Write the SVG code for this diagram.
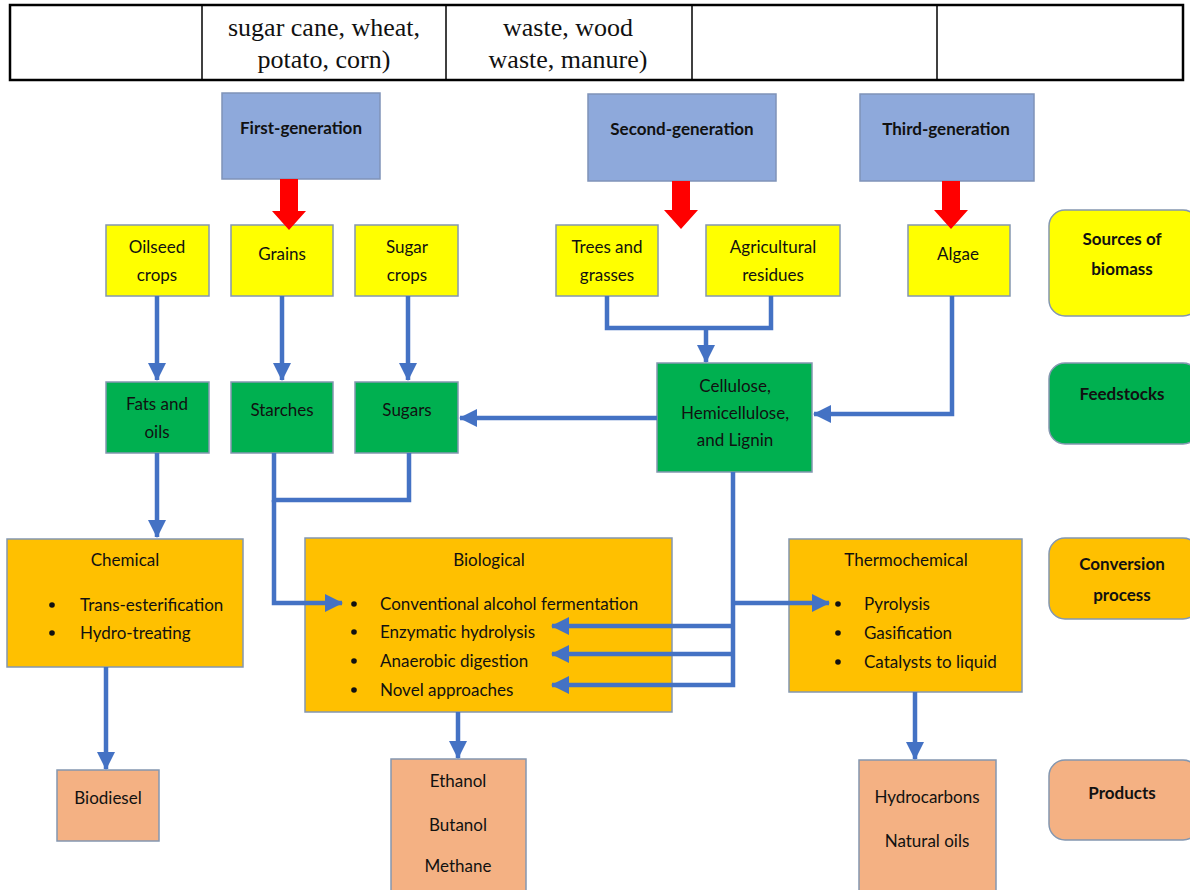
<svg xmlns="http://www.w3.org/2000/svg" width="1190" height="890" viewBox="0 0 1190 890">
<defs>
<style>
.t{font-family:Lato,"Liberation Sans",sans-serif;font-size:17px;fill:#111;text-anchor:middle}
.l{font-family:Lato,"Liberation Sans",sans-serif;font-size:17px;fill:#111}
.b{font-family:Lato,"Liberation Sans",sans-serif;font-size:16px;font-weight:bold;fill:#111;text-anchor:middle}
.h{font-family:Lato,"Liberation Sans",sans-serif;font-size:17px;font-weight:bold;fill:#111;text-anchor:middle}
.tb{font-family:"Liberation Serif",serif;font-size:26px;fill:#111;text-anchor:middle}
.gen{fill:#8EA9DB;stroke:#7F93B8;stroke-width:1.5}
.src{fill:#FFFF00;stroke:#8497B0;stroke-width:1.5}
.fd{fill:#00B050;stroke:#8497B0;stroke-width:1.5}
.cv{fill:#FFC000;stroke:#8497B0;stroke-width:1.5}
.pr{fill:#F4B183;stroke:#8497B0;stroke-width:1.5}
.c{fill:none;stroke:#4472C4;stroke-width:4.5}
.red{fill:#FF0000}
</style>
<marker id="ah" markerUnits="userSpaceOnUse" markerWidth="18" markerHeight="18" viewBox="0 0 18 18" refX="17" refY="9" orient="auto">
<path d="M0,0 L18,9 L0,18 z" fill="#4472C4"/>
</marker>
</defs>
<rect width="1190" height="890" fill="#fff"/>

<g id="table">
<rect x="10" y="5" width="1173" height="75" fill="none" stroke="#000" stroke-width="2.5"/>
<line x1="202" y1="5" x2="202" y2="80" stroke="#000" stroke-width="1.5"/>
<line x1="446" y1="5" x2="446" y2="80" stroke="#000" stroke-width="1.5"/>
<line x1="692" y1="5" x2="692" y2="80" stroke="#000" stroke-width="1.5"/>
<line x1="937" y1="5" x2="937" y2="80" stroke="#000" stroke-width="1.5"/>
<text class="tb" x="324" y="36">sugar cane, wheat,</text>
<text class="tb" x="324" y="68">potato, corn)</text>
<text class="tb" x="568" y="36">waste, wood</text>
<text class="tb" x="568" y="68">waste, manure)</text>
</g>

<g id="first-generation"><rect class="gen" x="222" y="93" width="158" height="86"/><text class="h" x="301" y="134">First-generation</text></g>
<g id="second-generation"><rect class="gen" x="588" y="94" width="188" height="87"/><text class="h" x="682" y="135">Second-generation</text></g>
<g id="third-generation"><rect class="gen" x="860" y="94" width="174" height="87"/><text class="h" x="946" y="135">Third-generation</text></g>

<g id="oilseed"><rect class="src" x="106" y="225" width="103" height="71"/><text class="t" x="157" y="253">Oilseed</text><text class="t" x="157" y="281">crops</text></g>
<g id="grains"><rect class="src" x="231" y="225" width="102" height="71"/><text class="t" x="282" y="260">Grains</text></g>
<g id="sugar-crops"><rect class="src" x="355" y="225" width="103" height="71"/><text class="t" x="407" y="253">Sugar</text><text class="t" x="407" y="281">crops</text></g>
<g id="trees"><rect class="src" x="556" y="225" width="102" height="71"/><text class="t" x="607" y="253">Trees and</text><text class="t" x="607" y="281">grasses</text></g>
<g id="agri"><rect class="src" x="706" y="225" width="134" height="71"/><text class="t" x="773" y="253">Agricultural</text><text class="t" x="773" y="281">residues</text></g>
<g id="algae"><rect class="src" x="908" y="225" width="102" height="71"/><text class="t" x="958" y="260">Algae</text></g>
<g id="sources-label"><rect class="src" x="1049" y="210" width="150" height="106" rx="16"/><text class="h" x="1122" y="245">Sources of</text><text class="h" x="1122" y="275">biomass</text></g>

<g id="fats"><rect class="fd" x="106" y="382" width="103" height="71"/><text class="t" x="157" y="410">Fats and</text><text class="t" x="157" y="438">oils</text></g>
<g id="starches"><rect class="fd" x="231" y="382" width="102" height="71"/><text class="t" x="282" y="416">Starches</text></g>
<g id="sugars"><rect class="fd" x="355" y="382" width="103" height="71"/><text class="t" x="407" y="416">Sugars</text></g>
<g id="cellulose"><rect class="fd" x="657" y="363" width="155" height="109"/><text class="t" x="735" y="392">Cellulose,</text><text class="t" x="735" y="419">Hemicellulose,</text><text class="t" x="735" y="446">and Lignin</text></g>
<g id="feedstocks-label"><rect class="fd" x="1049" y="363" width="150" height="81" rx="16"/><text class="h" x="1122" y="400">Feedstocks</text></g>

<g id="chemical"><rect class="cv" x="7" y="539" width="236" height="128"/><text class="t" x="125" y="566">Chemical</text>
<circle cx="52" cy="605" r="2.8" fill="#111"/><text class="l" x="80" y="611">Trans-esterification</text>
<circle cx="52" cy="633" r="2.8" fill="#111"/><text class="l" x="80" y="639">Hydro-treating</text></g>
<g id="biological"><rect class="cv" x="305" y="538" width="367" height="174"/><text class="t" x="489" y="566">Biological</text>
<circle cx="354" cy="604" r="2.8" fill="#111"/><text class="l" x="380" y="610">Conventional alcohol fermentation</text>
<circle cx="354" cy="632" r="2.8" fill="#111"/><text class="l" x="380" y="638">Enzymatic hydrolysis</text>
<circle cx="354" cy="661" r="2.8" fill="#111"/><text class="l" x="380" y="667">Anaerobic digestion</text>
<circle cx="354" cy="690" r="2.8" fill="#111"/><text class="l" x="380" y="696">Novel approaches</text></g>
<g id="thermochemical"><rect class="cv" x="789" y="539" width="233" height="153"/><text class="t" x="906" y="566">Thermochemical</text>
<circle cx="838" cy="604" r="2.8" fill="#111"/><text class="l" x="864" y="610">Pyrolysis</text>
<circle cx="838" cy="633" r="2.8" fill="#111"/><text class="l" x="864" y="639">Gasification</text>
<circle cx="838" cy="662" r="2.8" fill="#111"/><text class="l" x="864" y="668">Catalysts to liquid</text></g>
<g id="conversion-label"><rect class="cv" x="1049" y="538" width="150" height="81" rx="16"/><text class="h" x="1122" y="570">Conversion</text><text class="h" x="1122" y="601">process</text></g>

<g id="biodiesel"><rect class="pr" x="57" y="770" width="102" height="71"/><text class="t" x="108" y="804">Biodiesel</text></g>
<g id="bio-products"><rect class="pr" x="391" y="759" width="135" height="140"/><text class="t" x="458" y="787">Ethanol</text><text class="t" x="458" y="831">Butanol</text><text class="t" x="458" y="872">Methane</text></g>
<g id="thermo-products"><rect class="pr" x="859" y="760" width="137" height="140"/><text class="t" x="927" y="803">Hydrocarbons</text><text class="t" x="927" y="847">Natural oils</text></g>
<g id="products-label"><rect class="pr" x="1049" y="760" width="150" height="80" rx="16"/><text class="h" x="1122" y="799">Products</text></g>

<g id="connectors">
<line class="c" x1="157" y1="296" x2="157" y2="380" marker-end="url(#ah)"/>
<line class="c" x1="282" y1="296" x2="282" y2="380" marker-end="url(#ah)"/>
<line class="c" x1="408" y1="296" x2="408" y2="380" marker-end="url(#ah)"/>
<polyline class="c" points="607,296 607,328 771,328 771,296"/>
<line class="c" x1="706" y1="328" x2="706" y2="362" marker-end="url(#ah)"/>
<polyline class="c" points="952,296 952,414 814,414" marker-end="url(#ah)"/>
<line class="c" x1="657" y1="418" x2="460" y2="418" marker-end="url(#ah)"/>
<line class="c" x1="157" y1="453" x2="157" y2="537" marker-end="url(#ah)"/>
<polyline class="c" points="274,453 274,500 409,500 409,453"/>
<polyline class="c" points="274,500 274,603 342,603" marker-end="url(#ah)"/>
<polyline class="c" points="733,472 733,685 552,685" marker-end="url(#ah)"/>
<polyline class="c" points="733,626 552,626" marker-end="url(#ah)"/>
<polyline class="c" points="733,654 552,654" marker-end="url(#ah)"/>
<line class="c" x1="733" y1="603" x2="829" y2="603" marker-end="url(#ah)"/>
<line class="c" x1="106" y1="667" x2="106" y2="769" marker-end="url(#ah)"/>
<line class="c" x1="458" y1="712" x2="458" y2="758" marker-end="url(#ah)"/>
<line class="c" x1="915" y1="692" x2="915" y2="759" marker-end="url(#ah)"/>
<polygon class="red" points="280,179 298,179 298,211 306,211 289,230 272,211 280,211"/>
<polygon class="red" points="672,181 690,181 690,210 698,210 681,229 664,210 672,210"/>
<polygon class="red" points="942,181 960,181 960,210 968,210 951,229 934,210 942,210"/>
</g>
</svg>
